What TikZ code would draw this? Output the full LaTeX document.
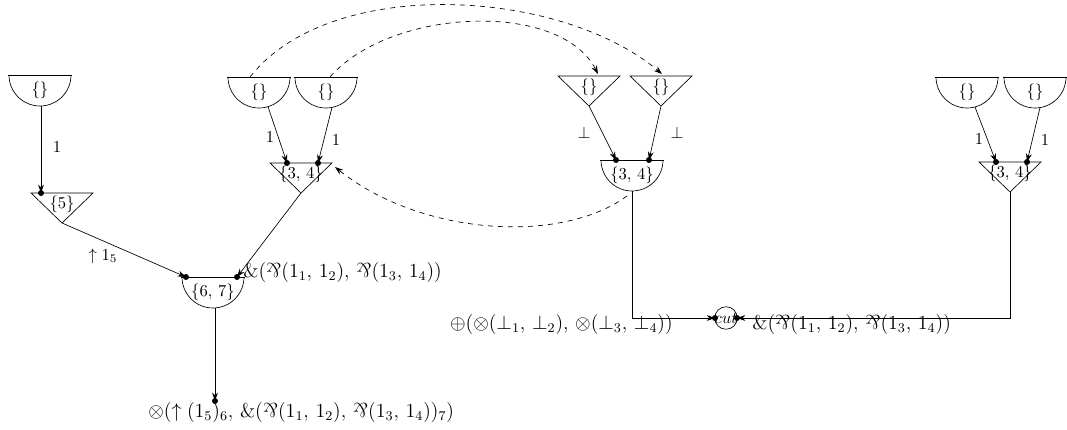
\documentclass[tikz,border=0pt]{standalone}
\usepackage{graphicx}
\usetikzlibrary{arrows.meta,calc}
\newcommand\mypar{\mathord{\rotatebox[origin=c]{180}{$\&$}}}
\begin{document}
\begin{tikzpicture}[x=0.6pt,y=-0.6pt,
  every node/.style={inner sep=0pt},
  longlbl/.style={font=\large},
  edge/.style={draw,-{Stealth[length=5pt,width=3.5pt]}},
  dashedge/.style={draw,dashed,-{Stealth[length=5pt,width=3.5pt]}},
  pics/semi/.style={code={
    \draw (-32,0) -- (32,0);
    \draw (31,0) arc[start angle=0,end angle=180,radius=31];
    \node at (0,15) {$#1$};
  }},
  pics/tri/.style={code={
    \draw (-31,0) -- (31,0) -- (0,30) -- cycle;
    \node at (0,11) {$#1$};
  }}]
\useasboundingbox (0,0) rectangle (1067,429);
% shapes
\coordinate (A) at (40,75);   \pic at (A) {semi={\{\}}};
\coordinate (B) at (62,193);  \pic at (B) {tri={\{5\}}};
\coordinate (C1) at (259,77); \pic at (C1) {semi={\{\}}};
\coordinate (C2) at (326,77); \pic at (C2) {semi={\{\}}};
\coordinate (D) at (301,163); \pic at (D) {tri={\{3,\,4\}}};
\coordinate (E) at (213,277); \pic at (E) {semi={\{6,\,7\}}};
\coordinate (G1) at (589,76); \pic at (G1) {tri={\{\}}};
\coordinate (G2) at (661,76); \pic at (G2) {tri={\{\}}};
\coordinate (H) at (632,160); \pic at (H) {semi={\{3,\,4\}}};
\coordinate (I1) at (967,77); \pic at (I1) {semi={\{\}}};
\coordinate (I2) at (1035,77);\pic at (I2) {semi={\{\}}};
\coordinate (J) at (1010,162);\pic at (J) {tri={\{3,\,4\}}};
\node[circle,draw,minimum size=13.5pt] (cut) at (726,318) {};
\node (cuttext) at (cut) {$cut$};
% ports
\coordinate (Aout) at ($(A)+(1,31)$);
\coordinate (Bin) at ($(B)+(-21,0)$);
\coordinate (Bout) at ($(B)+(0,30)$);
\coordinate (C1out) at ($(C1)+(9,29.7)$);
\coordinate (C2out) at ($(C2)+(6,30.4)$);
\coordinate (Din1) at ($(D)+(-14,0)$);
\coordinate (Din2) at ($(D)+(17,0)$);
\coordinate (Dout) at ($(D)+(0,30)$);
\coordinate (Ein1) at ($(E)+(-27,0)$);
\coordinate (Ein2) at ($(E)+(24,0)$);
\coordinate (Eout) at ($(E)+(2,31)$);
\coordinate (F) at (215,401);
\coordinate (G1out) at ($(G1)+(0,30)$);
\coordinate (G2out) at ($(G2)+(0,30)$);
\coordinate (Hin1) at ($(H)+(-16,0)$);
\coordinate (Hin2) at ($(H)+(17,0)$);
\coordinate (Hout) at ($(H)+(0,31)$);
\coordinate (I1out) at ($(I1)+(8,30)$);
\coordinate (I2out) at ($(I2)+(5,30.6)$);
\coordinate (Jin1) at ($(J)+(-14,0)$);
\coordinate (Jin2) at ($(J)+(17,0)$);
\coordinate (Jout) at ($(J)+(0,30)$);
\coordinate (cutL) at ($(cut)+(-11,0)$);
\coordinate (cutR) at ($(cut)+(11,0)$);
% solid edges
\draw[edge] (Aout) -- (Bin);
\draw[edge] (C1out) -- (Din1);
\draw[edge] (C2out) -- (Din2);
\draw[edge] (Bout) -- (Ein1);
\draw[edge] (Dout) -- (Ein2);
\draw[edge] (Eout) -- (F);
\draw[edge] (G1out) -- (Hin1);
\draw[edge] (G2out) -- (Hin2);
\draw[edge] (I1out) -- (Jin1);
\draw[edge] (I2out) -- (Jin2);
\draw[edge] (Hout) |- (cutL);
\draw[edge] (Jout) |- (cutR);
% dots
\foreach \p in {Bin,Din1,Din2,Ein1,Ein2,F,Hin1,Hin2,Jin1,Jin2,cutL,cutR}
  \fill (\p) circle[radius=3];
% dashed edges
\coordinate (C1top) at ($(C1)+(-9,0)$);
\coordinate (C2top) at ($(C2)+(4,0)$);
\coordinate (G1top) at ($(G1)+(9,-2)$);
\coordinate (G2top) at ($(G2)+(1,-2)$);
\coordinate (Hdash) at ($(H)+(-5,36)$);
\coordinate (Dright) at ($(D)+(34,4)$);
\draw[dashedge] (C1top) .. controls (330,-25) and (560,-12) .. (G2top);
\draw[dashedge] (C2top) .. controls (390,8) and (560,0) .. (G1top);
\draw[dashedge] (Hdash) .. controls (560,245) and (420,235) .. (Dright);
% labels
\node (l1) at (57,147) {$1$};
\node (l2) at (103,256) {$\uparrow 1_5$};
\node (l3) at (270,137) {$1$};
\node (l4) at (336,140) {$1$};
\node[longlbl,anchor=west] (l5) at (243,272) {$\&(\mypar(1_1,\, 1_2),\, \mypar(1_3,\, 1_4))$};
\node[longlbl,anchor=west] (l6) at (148,412) {$\otimes(\uparrow (1_5)_6,\, \&(\mypar(1_1,\, 1_2),\, \mypar(1_3,\, 1_4))_7)$};
\node (l7) at (584,133) {$\bot$};
\node (l8) at (677,133) {$\bot$};
\node (l9) at (979,139) {$1$};
\node (l10) at (1045,140) {$1$};
\node[longlbl,anchor=east] (l11) at (673,324) {$\oplus(\otimes(\bot_1,\, \bot_2),\, \otimes(\bot_3,\, \bot_4))$};
\node[longlbl,anchor=west] (l12) at (752,324) {$\&(\mypar(1_1,\, 1_2),\, \mypar(1_3,\, 1_4))$};
\end{tikzpicture}
\end{document}
